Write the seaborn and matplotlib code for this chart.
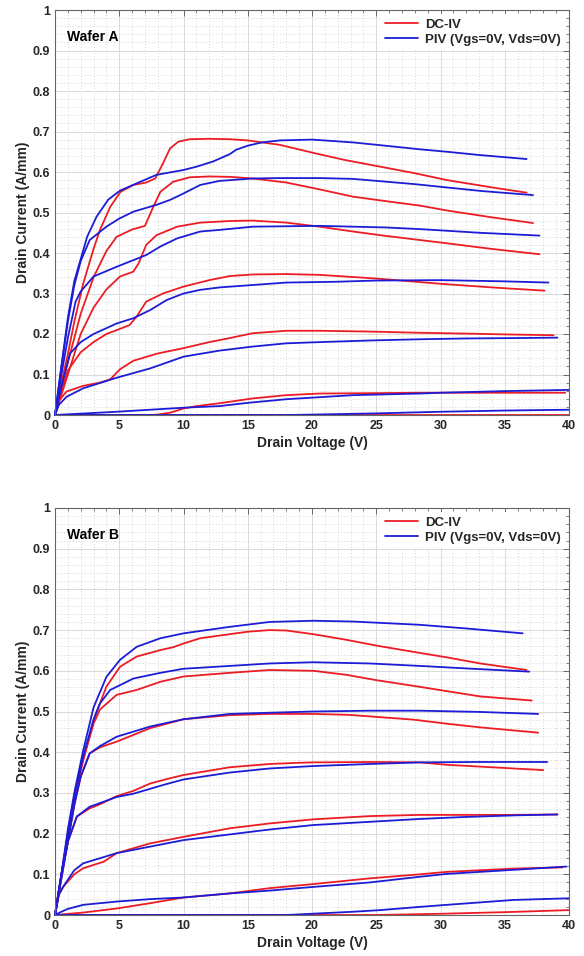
import pandas as pd
import matplotlib
matplotlib.use('Agg')
import matplotlib.pyplot as plt
import seaborn as sns
from matplotlib.ticker import MultipleLocator, FormatStrFormatter

# ---- Wafer A: DC-IV (red) ----
a_dc_v = [
    [0, 0.5, 1, 1.5, 2.2, 3, 3.5, 4.3, 5.1, 6.1, 7.1, 7.8, 8.4, 8.95, 9.6, 10.5, 12, 13.6, 15, 17.5, 20, 22.5, 25, 28, 30.5, 34.4, 36.7],
    [0, 0.5, 1, 2, 3, 4, 4.8, 6, 7, 7.65, 8.2, 9.2, 10.5, 12, 13.6, 15.4, 18, 20.6, 23.2, 26, 28.4, 30.5, 34, 37.2],
    [0, 0.5, 1, 2, 3, 4, 5.06, 6.1, 6.5, 7.1, 7.9, 9.5, 11.3, 13.6, 15.4, 18, 20.6, 23.2, 25.3, 28.4, 30.5, 34, 37.7],
    [0, 0.5, 1, 2, 3, 4, 5, 5.8, 6.35, 7.1, 8.4, 10, 12, 13.6, 15.4, 18, 20.6, 25, 30, 34, 38.1],
    [0, 0.3, 0.9, 2.2, 3.5, 4.3, 5.06, 6.1, 8, 10, 12, 13.6, 15.4, 18, 20.6, 24.5, 28.4, 32, 35, 38.8],
    [0, 7.5, 8, 9, 10, 11, 12.8, 15.4, 18, 20.6, 25, 28.4, 33, 39.7],
    [0, 10, 20, 30, 40],
]
a_dc_i = [
    [0, 0.08, 0.15, 0.23, 0.325, 0.41, 0.457, 0.514, 0.551, 0.568, 0.574, 0.584, 0.621, 0.658, 0.675, 0.681, 0.682, 0.681, 0.678, 0.667, 0.648, 0.63, 0.615, 0.597, 0.58, 0.56, 0.549],
    [0, 0.07, 0.13, 0.25, 0.34, 0.405, 0.44, 0.458, 0.467, 0.514, 0.551, 0.576, 0.587, 0.589, 0.588, 0.584, 0.574, 0.557, 0.539, 0.527, 0.517, 0.505, 0.488, 0.474],
    [0, 0.05, 0.1, 0.2, 0.265, 0.31, 0.342, 0.354, 0.374, 0.42, 0.444, 0.465, 0.475, 0.479, 0.48, 0.475, 0.465, 0.453, 0.444, 0.432, 0.424, 0.41, 0.397],
    [0, 0.06, 0.11, 0.155, 0.18, 0.2, 0.212, 0.222, 0.243, 0.28, 0.3, 0.317, 0.333, 0.343, 0.347, 0.348, 0.346, 0.337, 0.324, 0.315, 0.307],
    [0, 0.035, 0.058, 0.072, 0.08, 0.088, 0.113, 0.134, 0.152, 0.165, 0.18, 0.19, 0.202, 0.208, 0.208, 0.206, 0.203, 0.201, 0.199, 0.197],
    [0, 0, 0.001, 0.006, 0.016, 0.022, 0.029, 0.041, 0.049, 0.053, 0.054, 0.055, 0.055, 0.055],
    [0, 0, 0, 0, 0],
]

# ---- Wafer A: PIV (blue) ----
a_piv_v = [
    [0, 0.5, 1, 1.5, 2, 2.5, 3.24, 4.15, 5.06, 6.36, 7.9, 10, 11, 12.3, 13.6, 14.1, 15, 16.1, 17.5, 20, 23.2, 26, 28.4, 30.5, 33, 36.7],
    [0, 0.5, 1, 1.5, 2, 2.7, 4, 5, 6.1, 7.9, 8.95, 10, 11.3, 12.8, 15.4, 17.5, 20.6, 23.2, 28, 33.2, 37.2],
    [0, 0.5, 1, 1.6, 2, 3, 4.8, 7.1, 8.2, 9.5, 11.3, 12.8, 15.4, 20.6, 25.8, 28.4, 33, 37.7],
    [0, 0.5, 1.17, 2, 3, 4.8, 6.1, 7.4, 8.7, 10, 11.3, 12.8, 15.4, 18, 21.9, 25, 30, 35, 38.4],
    [0, 0.3, 0.9, 2.2, 4.8, 7.4, 10, 12.8, 15.4, 18, 20.6, 24.5, 28.4, 32, 36, 39.1],
    [0, 4.8, 10, 12.8, 15, 18, 20.6, 23.2, 28.4, 30, 35, 40],
    [0, 18, 20, 25, 30, 35, 40],
]
a_piv_i = [
    [0, 0.12, 0.24, 0.33, 0.385, 0.44, 0.49, 0.532, 0.554, 0.572, 0.593, 0.605, 0.613, 0.626, 0.644, 0.655, 0.665, 0.673, 0.678, 0.68, 0.673, 0.664, 0.656, 0.65, 0.642, 0.632],
    [0, 0.12, 0.23, 0.32, 0.38, 0.432, 0.465, 0.485, 0.502, 0.519, 0.531, 0.547, 0.568, 0.578, 0.584, 0.585, 0.585, 0.583, 0.57, 0.553, 0.543],
    [0, 0.1, 0.19, 0.28, 0.305, 0.342, 0.366, 0.395, 0.416, 0.436, 0.453, 0.457, 0.465, 0.467, 0.463, 0.459, 0.45, 0.443],
    [0, 0.07, 0.152, 0.18, 0.2, 0.226, 0.239, 0.259, 0.284, 0.3, 0.309, 0.315, 0.321, 0.327, 0.329, 0.332, 0.333, 0.33, 0.327],
    [0, 0.025, 0.045, 0.066, 0.092, 0.115, 0.144, 0.159, 0.169, 0.177, 0.18, 0.184, 0.187, 0.189, 0.19, 0.191],
    [0, 0.008, 0.018, 0.022, 0.03, 0.039, 0.044, 0.049, 0.053, 0.055, 0.059, 0.062],
    [0, 0, 0.001, 0.004, 0.008, 0.011, 0.013],
]

# ---- Wafer B: DC-IV (red) ----
b_dc_v = [
    [0, 0.5, 1, 1.5, 2.2, 3, 4, 5.06, 6.36, 8.2, 9.2, 10, 11.3, 13.6, 15, 16.7, 18, 20.1, 22.7, 25, 28, 30.5, 33.1, 36.7],
    [0, 0.5, 1, 2, 3, 3.5, 4.8, 6.36, 8.2, 10, 13.6, 16.7, 20.1, 22.7, 25, 27.9, 30.5, 33.1, 37.1],
    [0, 0.5, 1, 1.5, 2, 2.7, 3.5, 4.8, 7.4, 10, 13.6, 16.7, 20.1, 22.7, 24.5, 27.9, 30.5, 33.1, 37.6],
    [0, 0.5, 1, 1.7, 2.7, 3.5, 4.8, 6.1, 7.4, 8.7, 10, 13.6, 16.7, 19, 20.1, 25, 28.4, 30.5, 34, 38],
    [0, 0.3, 0.65, 1.5, 2.2, 3.8, 4.8, 7.4, 10, 13.6, 16.7, 20.1, 24.5, 28.4, 30.5, 35.7, 39.1],
    [0, 2.2, 4.8, 7.4, 10, 13.6, 16.7, 20.1, 24.5, 28.4, 30.5, 35.7, 39.5],
    [0, 25, 30, 35, 40],
]
b_dc_i = [
    [0, 0.1, 0.2, 0.29, 0.381, 0.479, 0.561, 0.61, 0.635, 0.651, 0.658, 0.667, 0.68, 0.69, 0.696, 0.7, 0.699, 0.69, 0.676, 0.662, 0.646, 0.633, 0.618, 0.602],
    [0, 0.1, 0.19, 0.36, 0.47, 0.505, 0.541, 0.553, 0.573, 0.586, 0.595, 0.602, 0.6, 0.59, 0.577, 0.563, 0.55, 0.537, 0.527],
    [0, 0.09, 0.18, 0.27, 0.34, 0.397, 0.412, 0.426, 0.459, 0.481, 0.491, 0.494, 0.494, 0.492, 0.488, 0.48, 0.47, 0.461, 0.448],
    [0, 0.1, 0.18, 0.242, 0.262, 0.272, 0.292, 0.305, 0.323, 0.334, 0.344, 0.363, 0.371, 0.374, 0.375, 0.376, 0.375, 0.369, 0.363, 0.356],
    [0, 0.05, 0.07, 0.1, 0.115, 0.131, 0.152, 0.176, 0.192, 0.213, 0.225, 0.235, 0.243, 0.246, 0.246, 0.246, 0.247],
    [0, 0.006, 0.016, 0.029, 0.043, 0.053, 0.066, 0.076, 0.09, 0.1, 0.106, 0.114, 0.117],
    [0, 0, 0.003, 0.007, 0.012],
]

# ---- Wafer B: PIV (blue) ----
b_piv_v = [
    [0, 0.5, 1, 1.5, 2.2, 3, 4, 5.06, 6.36, 8.2, 10, 13.6, 16.7, 20.1, 23.2, 28.4, 32, 36.4],
    [0, 0.5, 1, 1.5, 2.2, 3, 3.5, 4.3, 6.1, 8.2, 10, 13.6, 16.7, 20.1, 24.5, 28.4, 32.5, 36.9],
    [0, 0.5, 1, 1.5, 2, 2.7, 3.5, 4.8, 7.4, 10, 13.6, 16.7, 20.1, 24.5, 28.4, 33, 37.6],
    [0, 0.5, 1, 1.7, 2.7, 3.5, 4.8, 6.1, 7.4, 8.7, 10, 13.6, 16.7, 20.1, 24.5, 28.4, 33, 38.3],
    [0, 0.3, 0.65, 1.5, 2.2, 4.8, 7.4, 10, 13.6, 16.7, 20.1, 24.5, 28.4, 32, 36, 39.1],
    [0, 0.5, 1, 2.2, 4.8, 7.4, 10, 13.6, 16.7, 20.1, 24.5, 28.4, 30.5, 35.7, 39.8],
    [0, 18, 23.2, 25.3, 28.4, 30.5, 35.7, 40],
]
b_piv_i = [
    [0, 0.1, 0.21, 0.3, 0.405, 0.51, 0.585, 0.627, 0.659, 0.68, 0.692, 0.708, 0.72, 0.723, 0.721, 0.713, 0.704, 0.692],
    [0, 0.1, 0.2, 0.29, 0.39, 0.48, 0.52, 0.553, 0.581, 0.595, 0.605, 0.612, 0.618, 0.621, 0.618, 0.612, 0.605, 0.598],
    [0, 0.09, 0.18, 0.27, 0.34, 0.397, 0.415, 0.438, 0.463, 0.481, 0.494, 0.497, 0.5, 0.502, 0.502, 0.499, 0.494],
    [0, 0.1, 0.18, 0.242, 0.266, 0.275, 0.29, 0.298, 0.31, 0.322, 0.333, 0.35, 0.36, 0.366, 0.371, 0.375, 0.376, 0.376],
    [0, 0.05, 0.07, 0.11, 0.127, 0.152, 0.168, 0.184, 0.198, 0.21, 0.221, 0.229, 0.236, 0.241, 0.245, 0.247],
    [0, 0.008, 0.015, 0.025, 0.033, 0.039, 0.043, 0.053, 0.06, 0.069, 0.08, 0.094, 0.101, 0.111, 0.119],
    [0, 0, 0.008, 0.012, 0.02, 0.025, 0.037, 0.041],
]

labels = ['DC-IV', 'PIV (Vgs=0V, Vds=0V)']
colors = {'DC-IV': '#ec1c24', 'PIV (Vgs=0V, Vds=0V)': '#1c1cd6'}
x_ticks = [0, 5, 10, 15, 20, 25, 30, 35, 40]
y_ticks = [0, 0.1, 0.2, 0.3, 0.4, 0.5, 0.6, 0.7, 0.8, 0.9, 1]


def to_frame(dc_v, dc_i, piv_v, piv_i):
    rows = []
    for k, (vs, cs) in enumerate(zip(dc_v, dc_i)):
        for v, c in zip(vs, cs):
            rows.append({'V': v, 'I': c, 'Type': labels[0], 'Curve': 'dc%d' % k})
    for k, (vs, cs) in enumerate(zip(piv_v, piv_i)):
        for v, c in zip(vs, cs):
            rows.append({'V': v, 'I': c, 'Type': labels[1], 'Curve': 'piv%d' % k})
    return pd.DataFrame(rows)


def draw_panel(ax, df, title):
    sns.lineplot(data=df, x='V', y='I', hue='Type', hue_order=labels, units='Curve',
                 estimator=None, sort=False, palette=colors, lw=1.3, ax=ax)
    for ln in ax.get_lines():
        ln.set_clip_on(False)
        ln.set_solid_joinstyle('round')

    ax.set_xlim(0, 40)
    ax.set_ylim(0, 1)
    ax.set_xticks(x_ticks)
    ax.set_yticks(y_ticks)
    ax.xaxis.set_minor_locator(MultipleLocator(1))
    ax.yaxis.set_minor_locator(MultipleLocator(0.02))
    ax.yaxis.set_major_formatter(FormatStrFormatter('%g'))
    ax.xaxis.set_major_formatter(FormatStrFormatter('%g'))

    ax.set_axisbelow(True)
    ax.grid(which='major', color='#dadada', lw=0.7, ls='-')
    ax.grid(which='minor', color='#c8c8c8', lw=0.6, ls=(0, (1, 2.5)))
    ax.tick_params(which='both', direction='in', top=True, right=True,
                   colors='#555555', labelcolor='#262626', labelsize=9)
    ax.tick_params(which='major', length=4, width=0.6)
    ax.tick_params(which='minor', length=2.2, width=0.5)
    for s in ax.spines.values():
        s.set_color('#666666')
        s.set_linewidth(0.8)

    ax.set_xlabel('Drain Voltage (V)', fontsize=10, fontweight='bold', color='#262626', labelpad=3)
    ax.set_ylabel('Drain Current (A/mm)', fontsize=10, fontweight='bold', color='#262626', labelpad=2)
    ax.text(0.9, 0.933, title, fontsize=10, fontweight='bold', color='black', va='center', ha='left')

    handles, labs = ax.get_legend_handles_labels()
    leg = ax.legend(handles, labs, loc='upper right', fontsize=9.5, frameon=True,
                    handlelength=2.5, handletextpad=0.5, labelspacing=0.2,
                    borderpad=0.35, borderaxespad=0.3)
    leg.get_frame().set_facecolor('white')
    leg.get_frame().set_edgecolor('none')
    leg.get_frame().set_alpha(1)
    leg.get_frame().set_boxstyle('square', pad=0)
    for t in leg.get_texts():
        t.set_fontweight('bold')


sns.set_style('white')
plt.rcParams['font.family'] = ['Liberation Sans', 'DejaVu Sans']
plt.rcParams['font.weight'] = 'bold'

fig = plt.figure(figsize=(5.84, 9.56), dpi=100)
ax_a = fig.add_axes([55 / 584, 1 - 415 / 956, 514 / 584, 405 / 956])
ax_b = fig.add_axes([55 / 584, 1 - 915 / 956, 514 / 584, 407 / 956])

draw_panel(ax_a, to_frame(a_dc_v, a_dc_i, a_piv_v, a_piv_i), 'Wafer A')
draw_panel(ax_b, to_frame(b_dc_v, b_dc_i, b_piv_v, b_piv_i), 'Wafer B')

fig.savefig('out.png', dpi=100)
